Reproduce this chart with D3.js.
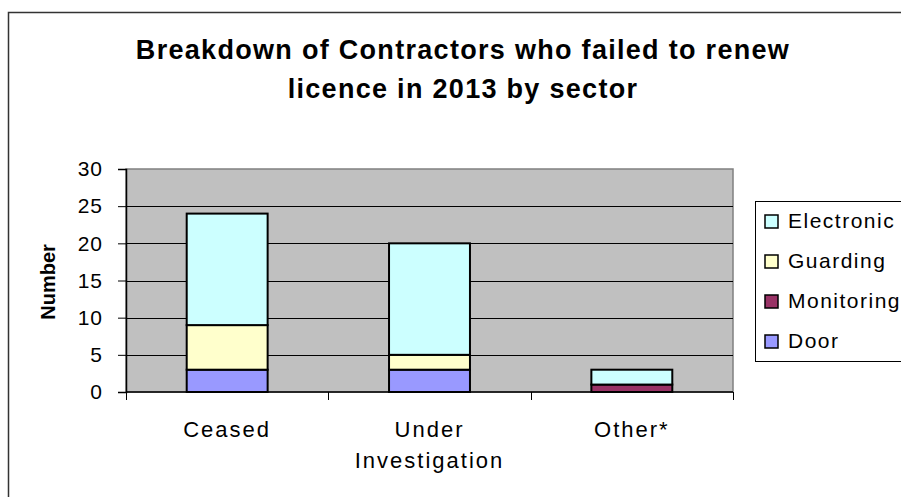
<!DOCTYPE html>
<html>
<head>
<meta charset="utf-8">
<script src="https://cdn.jsdelivr.net/npm/d3@7"></script>
<style>
  body { margin: 0; background: #fff; }
  svg { display: block; font-family: "Liberation Sans", Arial, sans-serif; }
</style>
</head>
<body>
<svg width="901" height="497"></svg>
<script>
// data
const categories = ['Ceased', 'Under Investigation', 'Other*'];
const seriesNames = ['Door', 'Monitoring', 'Guarding', 'Electronic'];
const door = [3, 3, 0];
const monitoring = [0, 0, 1];
const guarding = [6, 2, 0];
const electronic = [15, 15, 2];
const yTicks = [0, 5, 10, 15, 20, 25, 30];
const legendOrder = ['Electronic', 'Guarding', 'Monitoring', 'Door'];
const colors = {
  Door: '#9999ff',
  Monitoring: '#993366',
  Guarding: '#ffffcc',
  Electronic: '#ccffff'
};

const svg = d3.select('svg');

// outer chart frame (runs off the right / bottom edge)
svg.append('rect')
  .attr('x', 8.5).attr('y', 12.5)
  .attr('width', 1000).attr('height', 1000)
  .attr('fill', '#fff')
  .attr('stroke', '#333').attr('stroke-width', 1.5);

const plot = { left: 126, right: 733, top: 169, bottom: 392 };

const x = d3.scaleBand()
  .domain(categories)
  .range([plot.left, plot.right])
  .padding(0);

const y = d3.scaleLinear()
  .domain([0, 30])
  .range([plot.bottom, plot.top]);

// plot area
svg.append('rect')
  .attr('x', plot.left).attr('y', plot.top)
  .attr('width', plot.right - plot.left).attr('height', plot.bottom - plot.top)
  .attr('fill', '#c0c0c0')
  .attr('stroke', '#808080').attr('stroke-width', 1.5);

// gridlines
svg.append('g')
  .selectAll('line')
  .data(yTicks.filter((d) => d > 0 && d < 30))
  .join('line')
  .attr('x1', plot.left).attr('x2', plot.right)
  .attr('y1', (d) => Math.round(y(d)) + 0.5).attr('y2', (d) => Math.round(y(d)) + 0.5)
  .attr('stroke', '#000').attr('stroke-width', 1);

// stacked bars
const rows = categories.map((c, i) => ({
  category: c,
  Door: door[i],
  Monitoring: monitoring[i],
  Guarding: guarding[i],
  Electronic: electronic[i]
}));
const stacked = d3.stack().keys(seriesNames)(rows);
const barW = x.bandwidth() * 0.4;

svg.append('g')
  .selectAll('g')
  .data(stacked)
  .join('g')
  .attr('fill', (d) => colors[d.key])
  .selectAll('rect')
  .data((d) => d.filter((p) => p[1] - p[0] > 0))
  .join('rect')
  .attr('x', (d) => x(d.data.category) + (x.bandwidth() - barW) / 2)
  .attr('y', (d) => y(d[1]))
  .attr('width', barW)
  .attr('height', (d) => y(d[0]) - y(d[1]))
  .attr('stroke', '#000').attr('stroke-width', 2);

// y axis
const yAxis = svg.append('g')
  .attr('transform', `translate(${plot.left},0)`)
  .call(d3.axisLeft(y).tickValues(yTicks).tickSize(8).tickPadding(15));
yAxis.select('.domain').attr('stroke', '#000').attr('stroke-width', 1.5);
yAxis.selectAll('.tick line').attr('stroke', '#000');
yAxis.selectAll('.tick text')
  .attr('fill', '#000')
  .style('font-size', '21px')
  .style('letter-spacing', '1px')
  .style('font-family', '"Liberation Sans", Arial, sans-serif');

// x axis: ticks at category boundaries
const xAxis = svg.append('g')
  .attr('transform', `translate(0,${plot.bottom})`);
xAxis.append('line')
  .attr('x1', plot.left).attr('x2', plot.right)
  .attr('stroke', '#000').attr('stroke-width', 1.5);
const bounds = categories.map((c) => x(c)).concat([x(categories[categories.length - 1]) + x.bandwidth()]);
xAxis.selectAll('line.tk')
  .data(bounds)
  .join('line')
  .attr('class', 'tk')
  .attr('x1', (d) => Math.round(d) + 0.5).attr('x2', (d) => Math.round(d) + 0.5)
  .attr('y1', 0).attr('y2', 8)
  .attr('stroke', '#000');

const catLines = {
  'Ceased': ['Ceased'],
  'Under Investigation': ['Under', 'Investigation'],
  'Other*': ['Other*']
};
xAxis.selectAll('text.cat')
  .data(categories)
  .join('text')
  .attr('class', 'cat')
  .attr('x', (d) => x(d) + x.bandwidth() / 2)
  .attr('y', 45)
  .attr('text-anchor', 'middle')
  .style('font-size', '22px')
  .style('letter-spacing', '2px')
  .selectAll('tspan')
  .data((d) => catLines[d].map((t) => ({ t, cx: x(d) + x.bandwidth() / 2 })))
  .join('tspan')
  .attr('x', (d) => d.cx)
  .attr('dy', (d, i) => (i === 0 ? 0 : 31))
  .text((d) => d.t);

// y axis title
svg.append('text')
  .attr('transform', 'translate(55,282) rotate(-90)')
  .attr('text-anchor', 'middle')
  .style('font-size', '20px')
  .style('font-weight', 'bold')
  .text('Number');

// chart title
const title = svg.append('text')
  .attr('text-anchor', 'middle')
  .style('font-size', '27px')
  .style('font-weight', 'bold')
  .style('letter-spacing', '1.3px');
title.append('tspan').attr('x', 463).attr('y', 59)
  .text('Breakdown of Contractors who failed to renew');
title.append('tspan').attr('x', 463).attr('y', 98)
  .text('licence in 2013 by sector');

// legend
const legend = svg.append('g');
legend.append('rect')
  .attr('x', 755.5).attr('y', 201.5)
  .attr('width', 300).attr('height', 160)
  .attr('fill', '#fff')
  .attr('stroke', '#000').attr('stroke-width', 1);
const ly = d3.scalePoint().domain(legendOrder).range([221, 341]);
const items = legend.selectAll('g.item')
  .data(legendOrder)
  .join('g')
  .attr('class', 'item')
  .attr('transform', (d) => `translate(0,${ly(d)})`);
items.append('rect')
  .attr('x', 765).attr('y', -6)
  .attr('width', 13).attr('height', 13)
  .attr('fill', (d) => colors[d])
  .attr('stroke', '#000').attr('stroke-width', 1.5);
items.append('text')
  .attr('x', 788).attr('y', 7)
  .style('font-size', '21px')
  .style('letter-spacing', '1.5px')
  .text((d) => d);
</script>
</body>
</html>
